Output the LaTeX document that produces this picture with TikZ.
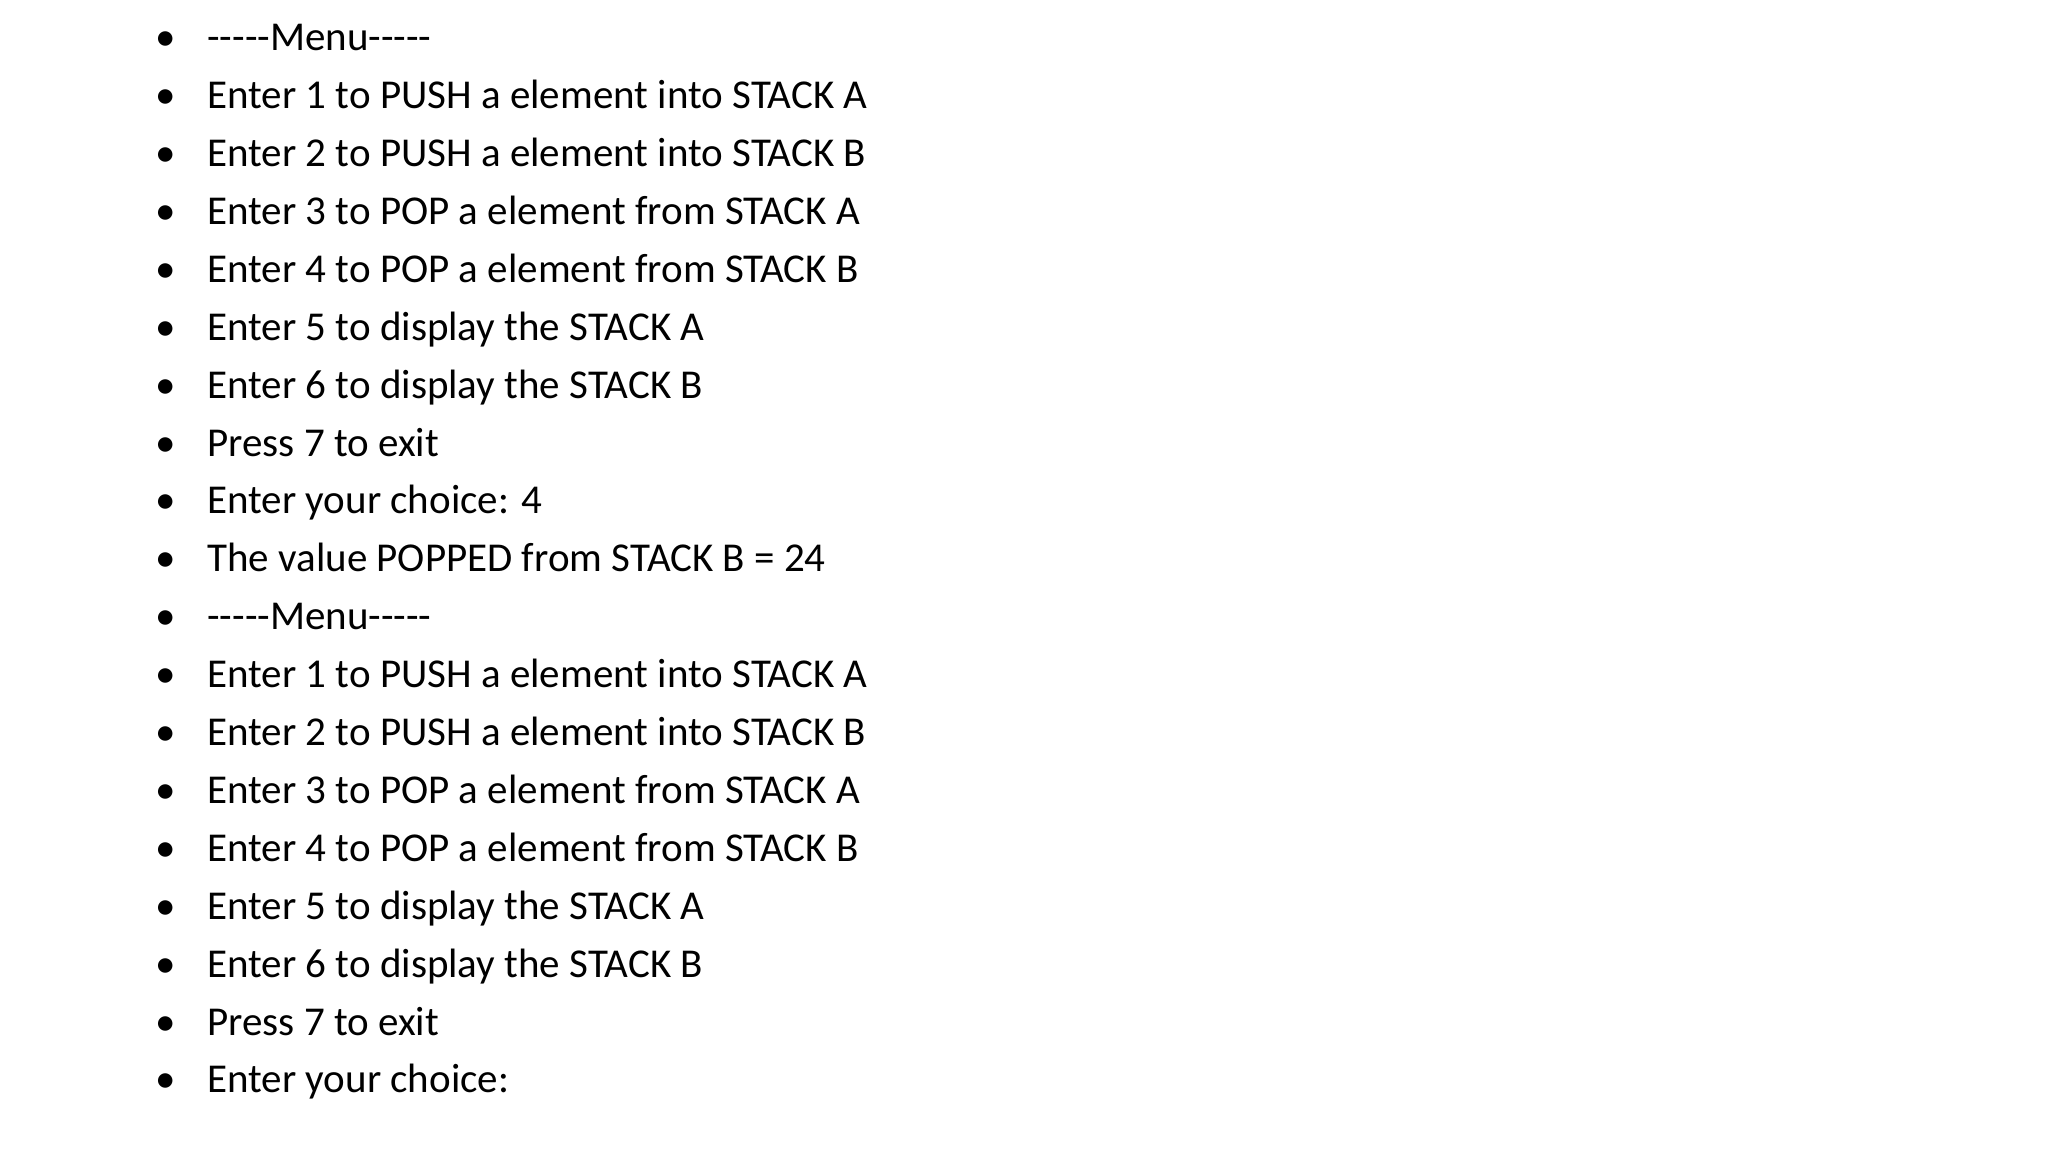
\documentclass[tikz,border=0pt]{standalone}
\usepackage{fontspec}
\setmainfont{Carlito}
\tikzset{item/.style={anchor=mid west,inner sep=0pt,font=\fontsize{20.5pt}{24pt}\selectfont},
bul/.style={anchor=mid,inner sep=0pt,font=\fontsize{20.5pt}{24pt}\selectfont}}
\begin{document}
\begin{tikzpicture}[x=1pt,y=1pt]
\useasboundingbox[fill=white] (0,0) rectangle (1024,-576);
\foreach \t [count=\i from 0] in {-{}-{}-{}-{}-Menu-{}-{}-{}-{}-,Enter 1 to PUSH a element into STACK A,Enter 2 to PUSH a element into STACK B,Enter 3 to POP a element from STACK A,Enter 4 to POP a element from STACK B,Enter 5 to display the STACK A,Enter 6 to display the STACK B,Press 7 to exit,Enter your choice: 4,The value POPPED from STACK B = 24,-{}-{}-{}-{}-Menu-{}-{}-{}-{}-,Enter 1 to PUSH a element into STACK A,Enter 2 to PUSH a element into STACK B,Enter 3 to POP a element from STACK A,Enter 4 to POP a element from STACK B,Enter 5 to display the STACK A,Enter 6 to display the STACK B,Press 7 to exit,Enter your choice:}{
  \node[bul] (b\i) at (83,{-23-28.95*\i}) {•};
  \node[item] (t\i) at (103.5,{-23-28.95*\i}) {\t};
}
\end{tikzpicture}
\end{document}
